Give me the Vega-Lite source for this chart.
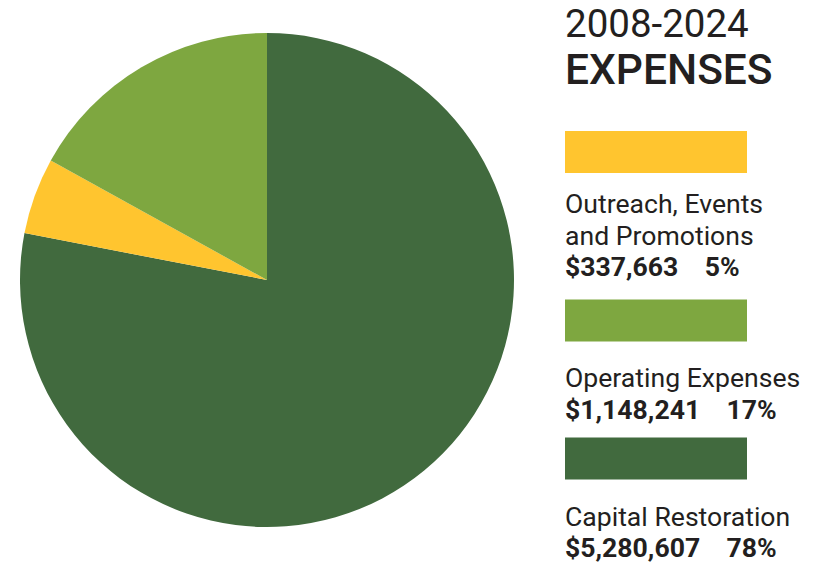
{
  "$schema": "https://vega.github.io/schema/vega-lite/v6.json",
  "padding": {"top": 6, "left": 0, "right": 0, "bottom": 0},
  "background": "white",
  "spacing": 31,
  "config": {"view": {"stroke": null}, "font": "Roboto"},
  "datasets": {
    "expenses": [
      {"category": "Capital Restoration", "nameLines": ["Capital Restoration"], "amount": 5280607, "pct": "78%", "sliceOrder": 1},
      {"category": "Outreach, Events and Promotions", "nameLines": ["Outreach, Events", "and Promotions"], "amount": 337663, "pct": "5%", "sliceOrder": 2},
      {"category": "Operating Expenses", "nameLines": ["Operating Expenses"], "amount": 1148241, "pct": "17%", "sliceOrder": 3}
    ]
  },
  "hconcat": [
    {
      "width": 534,
      "height": 298,
      "data": {"name": "expenses"},
      "mark": {"type": "arc", "outerRadius": 247},
      "encoding": {
        "theta": {"field": "amount", "type": "quantitative", "stack": true},
        "order": {"field": "sliceOrder", "type": "quantitative"},
        "color": {
          "field": "category",
          "type": "nominal",
          "scale": {
            "domain": ["Outreach, Events and Promotions", "Operating Expenses", "Capital Restoration"],
            "range": ["#FFC52F", "#7EA740", "#416A3E"]
          },
          "legend": null
        }
      }
    },
    {
      "title": {
        "text": "2008-2024",
        "subtitle": "EXPENSES",
        "anchor": "start",
        "fontSize": 38.5,
        "fontWeight": 400,
        "color": "#231F20",
        "subtitleFontSize": 42.5,
        "subtitleFontWeight": 500,
        "subtitleColor": "#231F20",
        "subtitleFont": "Roboto",
        "subtitlePadding": 4,
        "offset": 38
      },
      "spacing": 10,
      "vconcat": [
        {
          "width": 182,
          "height": 42,
          "data": {"name": "expenses"},
          "transform": [
            {"filter": "datum.category == 'Outreach, Events and Promotions'"},
            {"calculate": "format(datum.amount, '$,') + '\u00a0\u00a0\u00a0\u00a0' + datum.pct", "as": "amountLabel"}
          ],
          "encoding": {
            "y": {"field": "category", "type": "nominal", "scale": {"type": "band", "paddingInner": 0, "paddingOuter": 0}, "axis": null}
          },
          "layer": [
            {
              "mark": {"type": "bar"},
              "encoding": {
                "x": {"value": 0},
                "x2": {"value": "width"},
                "color": {
                  "field": "category",
                  "type": "nominal",
                  "scale": {
                    "domain": ["Outreach, Events and Promotions", "Operating Expenses", "Capital Restoration"],
                    "range": ["#FFC52F", "#7EA740", "#416A3E"]
                  },
                  "legend": null
                }
              }
            },
            {
              "mark": {"type": "text", "align": "left", "baseline": "alphabetic", "fontSize": 26.6, "lineHeight": 31.5, "dy": 61, "color": "#231F20"},
              "encoding": {"x": {"value": 0}, "text": {"field": "nameLines"}}
            },
            {
              "mark": {"type": "text", "align": "left", "baseline": "alphabetic", "fontSize": 26.6, "fontWeight": "bold", "dy": 124, "color": "#231F20"},
              "encoding": {"x": {"value": 0}, "text": {"field": "amountLabel"}}
            }
          ]
        },
        {
          "width": 182,
          "height": 195,
          "data": {"name": "expenses"},
          "transform": [
            {"filter": "datum.category != 'Outreach, Events and Promotions'"},
            {"calculate": "format(datum.amount, '$,') + '\u00a0\u00a0\u00a0\u00a0' + datum.pct", "as": "amountLabel"}
          ],
          "encoding": {
            "y": {
              "field": "category",
              "type": "nominal",
              "scale": {"type": "point", "domain": ["Operating Expenses", "Capital Restoration"], "padding": 0.206},
              "axis": null
            }
          },
          "layer": [
            {
              "mark": {"type": "bar", "height": 42},
              "encoding": {
                "x": {"value": 0},
                "x2": {"value": "width"},
                "color": {
                  "field": "category",
                  "type": "nominal",
                  "scale": {
                    "domain": ["Outreach, Events and Promotions", "Operating Expenses", "Capital Restoration"],
                    "range": ["#FFC52F", "#7EA740", "#416A3E"]
                  },
                  "legend": null
                }
              }
            },
            {
              "mark": {"type": "text", "align": "left", "baseline": "alphabetic", "fontSize": 26.6, "lineHeight": 31.5, "dy": 67, "color": "#231F20"},
              "encoding": {"x": {"value": 0}, "text": {"field": "nameLines"}}
            },
            {
              "mark": {"type": "text", "align": "left", "baseline": "alphabetic", "fontSize": 26.6, "fontWeight": "bold", "dy": 98.5, "color": "#231F20"},
              "encoding": {"x": {"value": 0}, "text": {"field": "amountLabel"}}
            }
          ]
        }
      ]
    }
  ]
}
